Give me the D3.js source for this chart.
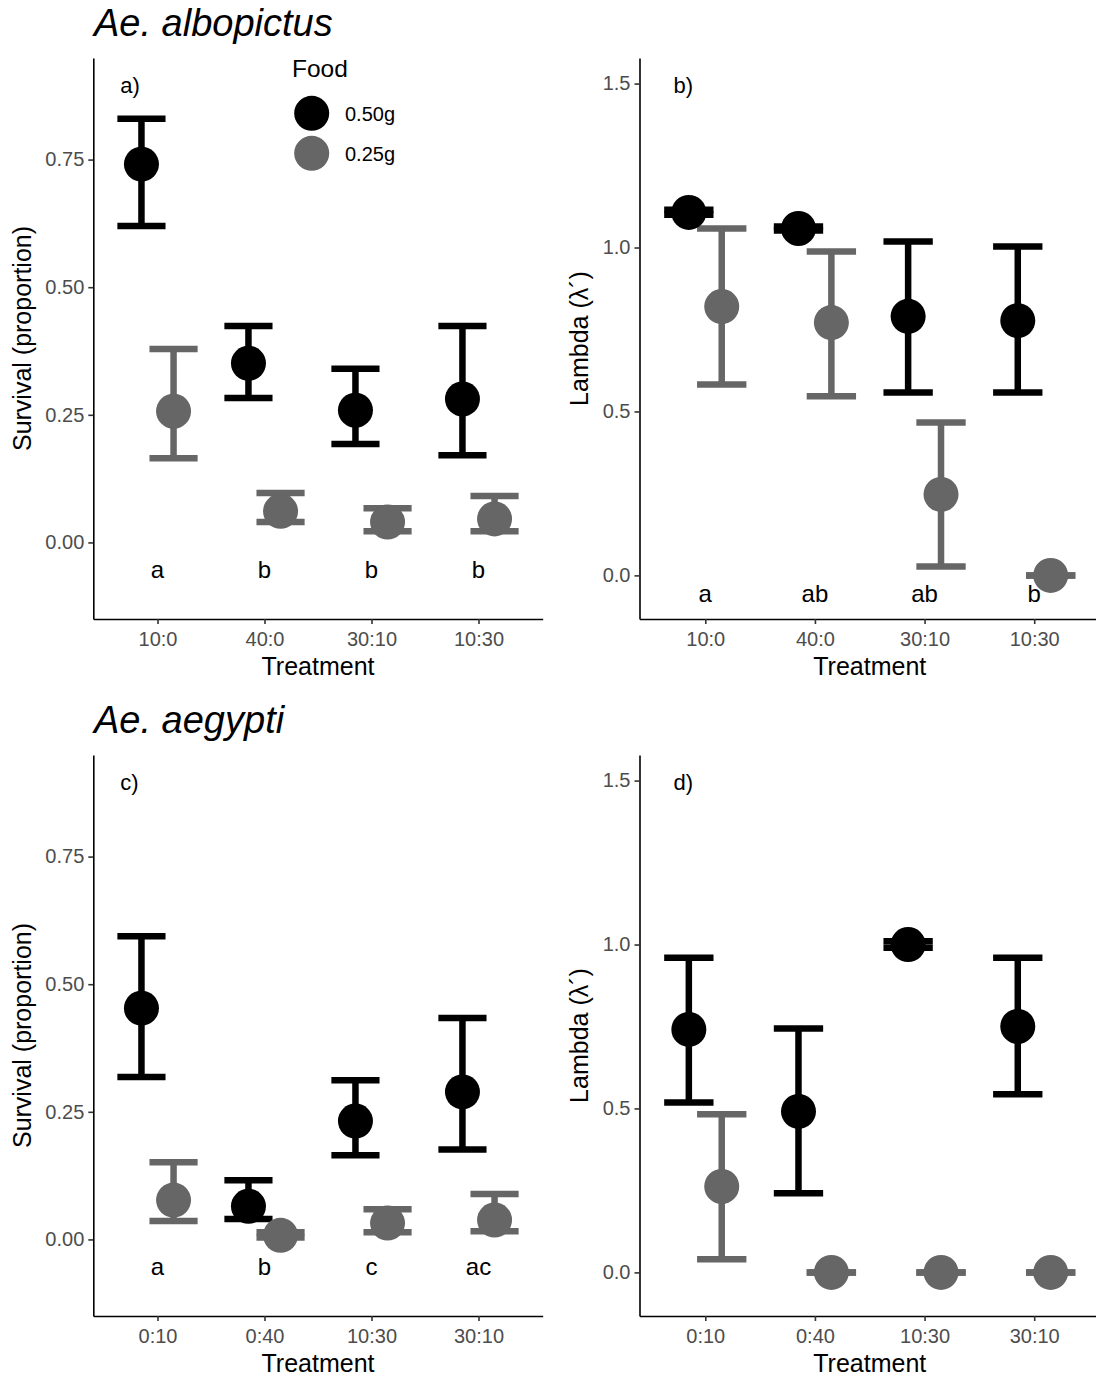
<!DOCTYPE html>
<html>
<head>
<meta charset="utf-8">
<script src="https://cdn.jsdelivr.net/npm/d3@7"></script>
<style>
  body { margin: 0; background: #fff; }
  text { font-family: "Liberation Sans", Arial, sans-serif; }
</style>
</head>
<body>
<svg id="chart" width="1096" height="1376"></svg>
<script>
"use strict";

// food levels (0.50g drawn first, 0.25g on top)
const foodLevels = ["0.50g", "0.25g"];
const foodColors = ["#000000", "#666666"];

// treatment categories
const albTreatments = ["10:0", "40:0", "30:10", "10:30"];
const aegTreatments = ["0:10", "0:40", "10:30", "30:10"];

// tick values
const survTicks = [0, 0.25, 0.5, 0.75];
const lambdaTicks = [0, 0.5, 1.0, 1.5];

// [mean, lower, upper] for each treatment
const albSurv50 = [[0.741, 0.620, 0.830], [0.351, 0.283, 0.424], [0.259, 0.193, 0.340], [0.281, 0.171, 0.424]];
const albSurv25 = [[0.257, 0.165, 0.379], [0.061, 0.040, 0.097], [0.040, 0.022, 0.067], [0.046, 0.022, 0.091]];
const albLambda50 = [[1.107, 1.100, 1.115], [1.058, 1.052, 1.064], [0.790, 0.558, 1.018], [0.777, 0.558, 1.003]];
const albLambda25 = [[0.820, 0.582, 1.058], [0.771, 0.546, 0.988], [0.247, 0.027, 0.466], [0.000, 0.000, 0.000]];

const aegSurv50 = [[0.453, 0.318, 0.594], [0.065, 0.040, 0.116], [0.232, 0.165, 0.312], [0.289, 0.176, 0.434]];
const aegSurv25 = [[0.077, 0.036, 0.151], [0.008, 0.004, 0.014], [0.032, 0.014, 0.059], [0.038, 0.016, 0.089]];
const aegLambda50 = [[0.741, 0.518, 0.960], [0.491, 0.241, 0.744], [1.000, 0.990, 1.010], [0.750, 0.543, 0.960]];
const aegLambda25 = [[0.262, 0.040, 0.482], [0.000, 0.000, 0.000], [0.000, 0.000, 0.000], [0.000, 0.000, 0.000]];

// significance letters
const albSurvLetters = ["a", "b", "b", "b"];
const albLambdaLetters = ["a", "ab", "ab", "b"];
const aegSurvLetters = ["a", "b", "c", "ac"];
const aegLambdaLetters = [];

const letterY = -0.05;

const svg = d3.select("#chart");
svg.append("rect").attr("width", 1096).attr("height", 1376).attr("fill", "#fff");

/* Panel layout */
const rowOffset = 697;
const panels = [
  { tag: "a)", row: 0, left: 93.3, right: 542.7, domain: [-0.15, 0.949], ticks: survTicks, fmt: ".2f",
    ylabel: "Survival (proportion)", ylabelX: 31, tagDx: 27, treatments: albTreatments,
    series: [albSurv50, albSurv25], letters: albSurvLetters, legend: true },
  { tag: "b)", row: 0, left: 639.5, right: 1100, domain: [-0.133, 1.578], ticks: lambdaTicks, fmt: ".1f",
    ylabel: "Lambda (\u03BB\u00B4)", ylabelX: 588, tagDx: 34, treatments: albTreatments,
    series: [albLambda50, albLambda25], letters: albLambdaLetters, legend: false },
  { tag: "c)", row: 1, left: 93.3, right: 542.7, domain: [-0.15, 0.949], ticks: survTicks, fmt: ".2f",
    ylabel: "Survival (proportion)", ylabelX: 31, tagDx: 27, treatments: aegTreatments,
    series: [aegSurv50, aegSurv25], letters: aegSurvLetters, legend: false },
  { tag: "d)", row: 1, left: 639.5, right: 1100, domain: [-0.133, 1.578], ticks: lambdaTicks, fmt: ".1f",
    ylabel: "Lambda (\u03BB\u00B4)", ylabelX: 588, tagDx: 34, treatments: aegTreatments,
    series: [aegLambda50, aegLambda25], letters: aegLambdaLetters, legend: false }
];

/* Species titles */
svg.append("text").attr("x", 94).attr("y", 36)
  .attr("font-size", 38).attr("font-style", "italic").text("Ae. albopictus");
svg.append("text").attr("x", 94).attr("y", 36 + rowOffset)
  .attr("font-size", 38).attr("font-style", "italic").text("Ae. aegypti");

/* Render one panel */
function render_panel(p) {
  const top = 58 + p.row * rowOffset,
        bottom = 619 + p.row * rowOffset;

  const x = d3.scalePoint().domain(p.treatments).range([p.left, p.right]).padding(0.6);
  const y = d3.scaleLinear().domain(p.domain).range([bottom, top]);
  const step = x.step(),
        dodge = 0.15 * step,
        capHalf = 0.225 * step;

  // axes
  const yAxis = svg.append("g")
      .attr("transform", `translate(${p.left},0)`)
      .call(d3.axisLeft(y).tickValues(p.ticks).tickFormat(d3.format(p.fmt))
        .tickSize(5).tickSizeOuter(0).tickPadding(4));
  const xAxis = svg.append("g")
      .attr("transform", `translate(0,${bottom})`)
      .call(d3.axisBottom(x).tickSize(5).tickSizeOuter(0).tickPadding(8));

  [xAxis, yAxis].forEach(function(g) {
    g.select(".domain").attr("stroke", "#000").attr("stroke-width", 1.6);
    g.selectAll(".tick line").attr("stroke", "#333").attr("stroke-width", 1.6);
    g.selectAll(".tick text").attr("fill", "#4d4d4d").attr("font-size", 20)
      .attr("font-family", "Liberation Sans, Arial, sans-serif");
  });

  // axis titles
  svg.append("text")
      .attr("transform", `translate(${p.ylabelX},${(top + bottom) / 2}) rotate(-90)`)
      .attr("text-anchor", "middle").attr("font-size", 25).text(p.ylabel);
  svg.append("text")
      .attr("x", (p.left + p.right) / 2).attr("y", 675 + p.row * rowOffset)
      .attr("text-anchor", "middle").attr("font-size", 25).text("Treatment");

  // flatten series into rows
  const rows = [];
  p.series.forEach(function(s, k) {
    s.forEach(function(v, i) {
      rows.push({ cat: p.treatments[i], food: k, mean: v[0], lo: v[1], hi: v[2] });
    });
  });
  const cx = function(d) { return x(d.cat) + (d.food === 0 ? -dodge : dodge); };

  // error bars
  const bars = svg.append("g").attr("class", "errorbars")
      .selectAll("g").data(rows).enter().append("g")
      .attr("stroke", function(d) { return foodColors[d.food]; })
      .attr("stroke-width", 6.5);
  bars.append("line")
      .attr("x1", cx).attr("x2", cx)
      .attr("y1", function(d) { return y(d.lo); })
      .attr("y2", function(d) { return y(d.hi); });
  bars.append("line")
      .attr("x1", function(d) { return cx(d) - capHalf; })
      .attr("x2", function(d) { return cx(d) + capHalf; })
      .attr("y1", function(d) { return y(d.hi); })
      .attr("y2", function(d) { return y(d.hi); });
  bars.append("line")
      .attr("x1", function(d) { return cx(d) - capHalf; })
      .attr("x2", function(d) { return cx(d) + capHalf; })
      .attr("y1", function(d) { return y(d.lo); })
      .attr("y2", function(d) { return y(d.lo); });

  // points
  svg.append("g").attr("class", "points")
      .selectAll("circle").data(rows).enter().append("circle")
      .attr("cx", cx)
      .attr("cy", function(d) { return y(d.mean); })
      .attr("r", 17.5)
      .attr("fill", function(d) { return foodColors[d.food]; });

  // letters
  svg.append("g").attr("class", "letters")
      .selectAll("text").data(p.letters).enter().append("text")
      .attr("x", function(d, i) { return x(p.treatments[i]); })
      .attr("y", y(letterY))
      .attr("dy", "0.43em")
      .attr("text-anchor", "middle")
      .attr("font-size", 24)
      .text(function(d) { return d; });

  // panel tag
  svg.append("text")
      .attr("x", p.left + p.tagDx).attr("y", top + 35)
      .attr("font-size", 22).text(p.tag);

  if (p.legend) render_legend(top);
}

/* Legend for food level */
function render_legend(top) {
  const g = svg.append("g").attr("class", "legend");
  g.append("text").attr("x", 292).attr("y", top + 19)
    .attr("font-size", 24.5).text("Food");
  const items = g.selectAll(".item").data(foodLevels).enter().append("g")
    .attr("transform", function(d, i) { return `translate(311.7,${top + 55.3 + i * 40})`; });
  items.append("circle").attr("r", 17.5)
    .attr("fill", function(d, i) { return foodColors[i]; });
  items.append("text").attr("x", 33.3).attr("dy", "0.36em")
    .attr("font-size", 20).text(function(d) { return d; });
}

panels.forEach(render_panel);
</script>
</body>
</html>
